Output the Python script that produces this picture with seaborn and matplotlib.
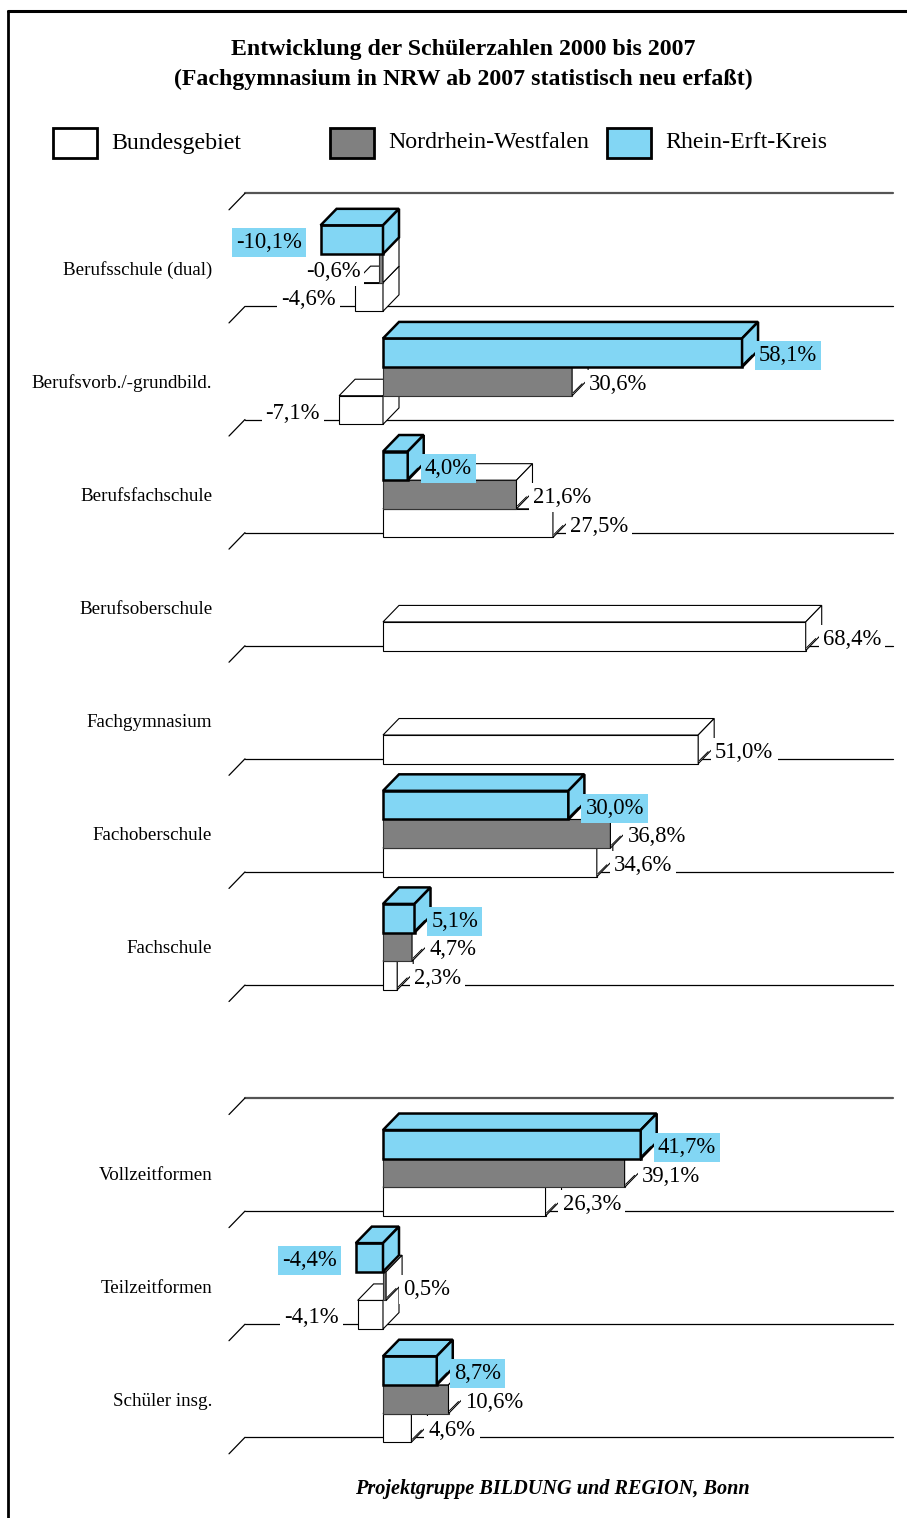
import numpy as np
import pandas as pd
import matplotlib
matplotlib.use('Agg')
import matplotlib.pyplot as plt
from matplotlib.patches import Polygon, Rectangle
from matplotlib.lines import Line2D
import seaborn as sns

# Daten (Veränderung 2000 bis 2007 in %)
regions = ['Bundesgebiet', 'Nordrhein-Westfalen', 'Rhein-Erft-Kreis']
colors = {'Bundesgebiet': '#ffffff', 'Nordrhein-Westfalen': '#808080', 'Rhein-Erft-Kreis': '#82d6f4'}

cats_top = ['Berufsschule (dual)', 'Berufsvorb./-grundbild.', 'Berufsfachschule',
            'Berufsoberschule', 'Fachgymnasium', 'Fachoberschule', 'Fachschule']
bund_top = [-4.6, -7.1, 27.5, 68.4, 51.0, 34.6, 2.3]
nrw_top = [-0.6, 30.6, 21.6, np.nan, np.nan, 36.8, 4.7]
rek_top = [-10.1, 58.1, 4.0, np.nan, np.nan, 30.0, 5.1]

cats_bottom = ['Vollzeitformen', 'Teilzeitformen', 'Schüler insg.']
bund_bottom = [26.3, -4.1, 4.6]
nrw_bottom = [39.1, 0.5, 10.6]
rek_bottom = [41.7, -4.4, 8.7]

title1 = 'Entwicklung der Schülerzahlen 2000 bis 2007'
title2 = '(Fachgymnasium in NRW ab 2007 statistisch neu erfaßt)'
footer = 'Projektgruppe BILDUNG und REGION, Bonn'

W, H = 907, 1518
PX = 6.18      # pixel je Prozentpunkt
X0 = 383       # pixel-Position der Null
SLOT = 113.1   # pixel je Kategorie
DX = 16 / PX   # 3D-Tiefe in x
DY = 16.5 / SLOT


def to_frame(cats, bund, nrw, rek):
    rows = []
    for c, b, n, r in zip(cats, bund, nrw, rek):
        for reg, v in zip(regions, (b, n, r)):
            if not np.isnan(v):
                rows.append({'Schulform': c, 'Region': reg, 'Wert': v})
    return pd.DataFrame(rows)


def px_box(left, top, right, bottom):
    return [left / W, 1 - bottom / H, (right - left) / W, (bottom - top) / H]


def which_region(patch):
    r, g, b = patch.get_facecolor()[:3]
    if min(r, g, b) > 0.95:
        return 'Bundesgebiet'
    if b > r + 0.2:
        return 'Rhein-Erft-Kreis'
    return 'Nordrhein-Westfalen'


sns.set_theme(style='white')
plt.rcParams['font.family'] = ['Liberation Serif', 'DejaVu Serif']
plt.rcParams['text.color'] = 'black'
plt.rcParams['ytick.color'] = 'black'
plt.rcParams['xtick.color'] = 'black'

fig = plt.figure(figsize=(W / 100, H / 100), dpi=100)


def draw_panel(cats, bund, nrw, rek, first_center, top_px, bottom_px):
    left_px, right_px = 229, 893
    ax = fig.add_axes(px_box(left_px, top_px, right_px, bottom_px))
    df = to_frame(cats, bund, nrw, rek)
    sns.barplot(data=df, x='Wert', y='Schulform', hue='Region', order=cats,
                hue_order=regions[::-1], palette=colors, orient='h', width=0.76,
                errorbar=None, legend=False, saturation=1, ax=ax)
    xmin, xmax = (left_px - X0) / PX, (right_px - X0) / PX
    ax.set_xlim(xmin, xmax)
    ax.set_ylim((bottom_px - first_center) / SLOT, (top_px - first_center) / SLOT)

    # Gitterlinien (Rückwand) mit Bodenkante
    for i in range(len(cats) + 1):
        y = i - 0.663
        if i == 0:
            ax.plot([xmin + DX, xmax], [y, y], color='#555555', lw=1.6, zorder=1, clip_on=False)
        else:
            ax.plot([xmin + DX, xmax], [y, y], color='black', lw=0.9, zorder=1, clip_on=False)
        ax.plot([xmin, xmin + DX], [y + DY, y], color='black', lw=0.9, zorder=1, clip_on=False)

    zlevel = {'Bundesgebiet': 2, 'Nordrhein-Westfalen': 3, 'Rhein-Erft-Kreis': 4}
    for p in list(ax.patches):
        reg = which_region(p)
        z = zlevel[reg]
        x, w = p.get_x(), p.get_width()
        xl, xr = min(x, x + w), max(x, x + w)
        yt = p.get_y()
        yb = yt + p.get_height()
        yc = (yt + yb) / 2 + 3 / SLOT
        if reg == 'Rhein-Erft-Kreis':
            ec, lw, side_fc = 'black', 1.8, colors[reg]
        else:
            ec, lw, side_fc = 'black', 0.8, 'white'
        p.set_zorder(z)
        p.set_edgecolor('#333333' if reg == 'Nordrhein-Westfalen' else ec)
        p.set_linewidth(lw)
        top = Polygon([(xl, yt), (xr, yt), (xr + DX, yt - DY), (xl + DX, yt - DY)],
                      closed=True, fc=side_fc, ec=ec, lw=lw, zorder=z)
        side = Polygon([(xr, yt), (xr, yb), (xr + DX, yb - DY), (xr + DX, yt - DY)],
                       closed=True, fc=side_fc, ec=ec, lw=lw, zorder=z)
        ax.add_patch(top)
        ax.add_patch(side)

        txt = f'{w:.1f}'.replace('.', ',') + '%'
        bg = colors['Rhein-Erft-Kreis'] if reg == 'Rhein-Erft-Kreis' else 'white'
        lz = 6 if reg == 'Rhein-Erft-Kreis' else 5
        box = dict(boxstyle='square,pad=0.18', fc=bg, ec='none')
        if w >= 0:
            ax.text(w + 17 / PX, yc, txt, ha='left', va='center', fontsize=16.3,
                    color='black', bbox=box, zorder=lz)
            ax.plot([w + 1 / PX, w + 10 / PX], [yb - 3 / SLOT, yb - 12 / SLOT],
                    color='black', lw=0.7, zorder=7)
        else:
            ax.text(w - 19 / PX, yc, txt, ha='right', va='center', fontsize=16.3,
                    color='black', bbox=box, zorder=lz)

    ax.set_xticks([])
    ax.set_xlabel('')
    ax.set_ylabel('')
    ax.tick_params(axis='y', length=0, pad=12, labelsize=13.7, labelcolor='black')
    for s in ax.spines.values():
        s.set_visible(False)
    ax.patch.set_alpha(0)
    return ax


draw_panel(cats_top, bund_top, nrw_top, rek_top, 268.3, 178, 1005)
draw_panel(cats_bottom, bund_bottom, nrw_bottom, rek_bottom, 1173, 1080, 1460)

# Titel
fig.text(463 / W, 1 - 49 / H, title1, ha='center', va='center', fontsize=17.2, weight='bold')
fig.text(463 / W, 1 - 79 / H, title2, ha='center', va='center', fontsize=17.2, weight='bold')

# Legende
for xb, reg in zip([53, 330, 607], regions):
    fig.add_artist(Rectangle((xb / W, 1 - 158 / H), 44 / W, 30 / H, transform=fig.transFigure,
                             fc=colors[reg], ec='black', lw=2))
    fig.text((xb + 58) / W, 1 - 143 / H, reg, ha='left', va='center', fontsize=17.2)

# Quelle
fig.text(552 / W, 1 - 1489 / H, footer, ha='center', va='center', fontsize=14.6,
         weight='bold', style='italic')

# Rahmen
fig.add_artist(Line2D([8 / W, 1], [1 - 11 / H, 1 - 11 / H], transform=fig.transFigure,
                      color='black', lw=2.2))
fig.add_artist(Line2D([8 / W, 8 / W], [0, 1 - 11 / H], transform=fig.transFigure,
                      color='black', lw=2.0))

fig.savefig('out.png', dpi=100)
